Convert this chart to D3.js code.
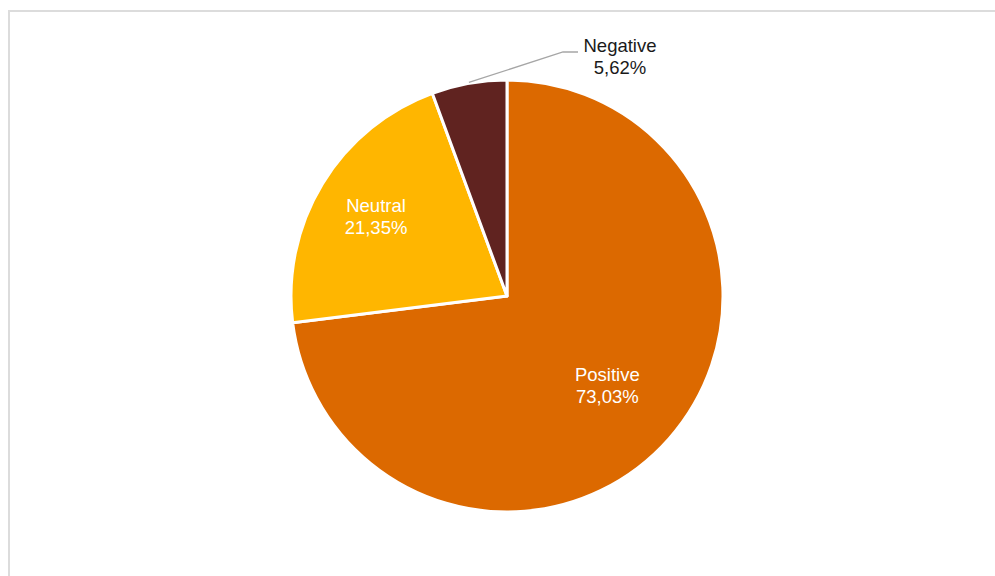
<!DOCTYPE html>
<html>
<head>
<meta charset="utf-8">
<script src="https://cdn.jsdelivr.net/npm/d3@7"></script>
<style>
  body { margin: 0; background: #fff; }
  svg { display: block; font-family: "Liberation Sans", Arial, sans-serif; }
</style>
</head>
<body>
<div id="chart"></div>
<script>
// data
var categories = ["Positive", "Neutral", "Negative"]
var values = [73.03, 21.35, 5.62]
var colors = ["#dc6900", "#ffb600", "#602320"]

var width = 995
var height = 576
var cx = 507, cy = 296, radius = 216

var svg = d3.select("#chart")
  .append("svg")
  .attr("width", width)
  .attr("height", height)

// chart area border (cropped on right and bottom)
svg.append("rect")
  .attr("x", 9)
  .attr("y", 11)
  .attr("width", 1000)
  .attr("height", 600)
  .attr("fill", "none")
  .attr("stroke", "#dcdcdc")
  .attr("stroke-width", 2)

var data = categories.map(function(c, i) { return {name: c, value: values[i], color: colors[i]} })

var pie = d3.pie()
  .sort(null)
  .value(function(d) { return d.value })

var arc = d3.arc()
  .innerRadius(0)
  .outerRadius(radius)

var arcs = pie(data)
var fmt = function(v) { return d3.format(".2f")(v).replace(".", ",") + "%" }

var g = svg.append("g")
  .attr("transform", "translate(" + cx + "," + cy + ")")

g.selectAll("path")
  .data(arcs)
  .join("path")
    .attr("d", arc)
    .attr("fill", function(d) { return d.data.color })
    .attr("stroke", "#fff")
    .attr("stroke-width", 3)
    .attr("stroke-linejoin", "round")

// inside labels (best-fit style distance from centre)
var labelRadius = {Positive: 0.62, Neutral: 0.71}

arcs.filter(function(d) { return d.data.name != "Negative" }).forEach(function(d) {
  var r = radius * labelRadius[d.data.name]
  var a = (d.startAngle + d.endAngle) / 2
  var x = Math.sin(a) * r, y = -Math.cos(a) * r
  var t = g.append("text")
    .attr("text-anchor", "middle")
    .attr("fill", "#fff")
    .attr("font-size", 18.5)
  t.append("tspan").attr("x", x).attr("y", y - 4).text(d.data.name)
  t.append("tspan").attr("x", x).attr("y", y + 18).text(fmt(d.data.value))
})

// outside label with leader line for the small slice
var neg = arcs[2]
var na = (neg.startAngle + neg.endAngle) / 2
var p0 = [Math.sin(na) * (radius + 1), -Math.cos(na) * (radius + 1)]
var p1 = [56, -244]
var p2 = [71, -244]

g.append("polyline")
  .attr("points", [p0, p1, p2].map(function(p) { return p.join(",") }).join(" "))
  .attr("fill", "none")
  .attr("stroke", "#a6a6a6")
  .attr("stroke-width", 1.3)

var nt = g.append("text")
  .attr("text-anchor", "middle")
  .attr("fill", "#1a1a1a")
  .attr("font-size", 18.5)
nt.append("tspan").attr("x", 113).attr("y", -244).text(neg.data.name)
nt.append("tspan").attr("x", 113).attr("y", -222).text(fmt(neg.data.value))
</script>
</body>
</html>
